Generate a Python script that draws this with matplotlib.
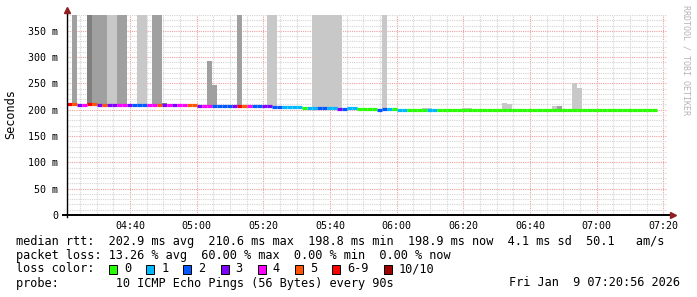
import numpy as np
import matplotlib.pyplot as plt
from matplotlib.patches import Rectangle

# ---------------------------------------------------------------------------
# data (times in minutes after midnight)
view_start = 4 * 60 + 20 + 56 / 60.0      # 04:20:56
view_end = 7 * 60 + 20 + 56 / 60.0        # 07:20:56
first_step = 4 * 60 + 21 + 6 / 60.0       # first 90 s step
step_min = 1.5                            # 90 s

# median rtt per step (ms)
median_ms = [
    210.5, 210.3, 209.8, 209.8, 210.6, 210.0, 209.5, 209.2, 209.3, 209.3, 209.6, 209.6,
    209.3, 209.4, 209.4, 209.4, 209.5, 209.5, 208.9, 208.5, 208.7, 208.3, 208.6, 208.4,
    208.2, 208.2, 207.9, 208.0, 208.0, 207.3, 207.1, 207.5, 207.5, 207.3, 207.6, 207.4,
    206.9, 206.7, 206.7, 206.6, 206.2, 205.0, 205.2, 204.8, 204.5, 204.4, 204.3, 203.6,
    203.8, 203.8, 202.7, 202.8, 203.0, 203.0, 202.0, 202.2, 202.5, 202.4, 202.2, 202.0,
    201.6, 201.4, 200.4, 200.6, 201.0, 200.9, 200.2, 199.8, 199.6, 199.4, 199.2, 199.4,
    199.9, 199.6, 199.6, 199.8, 199.6, 199.5, 199.6, 199.5, 199.7, 199.5, 199.6, 199.5,
    199.4, 199.5, 199.6, 199.5, 199.4, 199.5, 199.5, 199.6, 199.5, 199.4, 199.5, 199.5,
    199.6, 199.5, 199.4, 199.5, 199.5, 199.6, 199.5, 199.5, 199.4, 199.5, 199.5, 199.6,
    199.5, 199.4, 199.5, 199.5, 199.4, 199.5, 199.5, 199.5, 199.4, 199.5,
]

# lost pings (out of 10) per step -> colour class
loss_class = [
    6, 5, 3, 4, 6, 5, 3, 5, 3, 3, 4, 4, 3, 2, 2, 2, 4, 4, 5, 3, 4, 3, 4, 4,
    5, 5, 3, 4, 4, 2, 2, 2, 2, 3, 6, 5, 4, 2, 2, 3, 3, 2, 2, 1, 1, 1, 1, 0,
    1, 1, 2, 2, 1, 1, 3, 2, 1, 1, 0, 0, 0, 0, 2, 2, 1, 0, 1, 1, 0, 0, 0, 0,
    1, 1,
] + [0] * 44

# smoke (step index, top of smoke in ms, shade)
smoke_idx = [1, 4, 5, 6, 7, 8, 9, 10, 11, 14, 15, 17, 18, 19, 28, 29, 34, 40, 41,
             43, 44, 45, 49, 50, 51, 52, 53, 54, 56, 57, 58, 59, 63, 71, 72, 79, 80,
             87, 88, 97, 98, 101, 102]
smoke_top = [380, 380, 380, 380, 380, 380, 380, 380, 380, 380, 380, 380, 380, 213,
             293, 247, 380, 380, 380, 207, 207, 206.5, 380, 380, 380, 380, 380, 380,
             204.5, 204.5, 204, 204, 380, 203, 202.5, 203, 202.5,
             213, 211.5, 207.5, 206.5, 251, 241]
smoke_shade = ['m', 'd', 'm', 'm', 'm', 'l', 'l', 'm', 'm', 'l', 'l', 'm', 'm', 'd',
               'm', 'm', 'm', 'l', 'l', 'l', 'l', 'l', 'l', 'l', 'l', 'l', 'l', 'l',
               'l', 'l', 'm', 'm', 'l', 'l', 'l', 'l', 'l',
               'l', 'l', 'l', 'm', 'l', 'l']

loss_labels = ['0', '1', '2', '3', '4', '5', '6-9', '10/10']
loss_colors = ['#26ff00', '#00b8ff', '#0059ff', '#7e00ff', '#ff00ff', '#ff5500',
               '#ff0000', '#a10000']
shade_colors = {'l': '#c8c8c8', 'm': '#a0a0a0', 'd': '#808080'}

y_major = [0, 50, 100, 150, 200, 250, 300, 350]
y_labels = ['0', '50 m', '100 m', '150 m', '200 m', '250 m', '300 m', '350 m']

line_rtt = "median rtt:  202.9 ms avg  210.6 ms max  198.8 ms min  198.9 ms now  4.1 ms sd  50.1   am/s"
line_loss = "packet loss: 13.26 % avg  60.00 % max  0.00 % min  0.00 % now"
line_probe = "probe:        10 ICMP Echo Pings (56 Bytes) every 90s"
stamp = "Fri Jan  9 07:20:56 2026"

###############################################################################
W, H = 697, 297
mono = 'DejaVu Sans Mono'

fig = plt.figure(figsize=(W / 100, H / 100), dpi=100)
fig.patch.set_facecolor('white')
ax = fig.add_axes([66.5 / W, (H - 215) / H, 600 / W, 200 / H])
for s in ax.spines.values():
    s.set_visible(False)

t = first_step + step_min * np.arange(len(median_ms))
med = np.array(median_ms)

# smoke
st = t[smoke_idx]
sb = med[smoke_idx]
ax.bar(st, np.array(smoke_top) - sb, bottom=sb, width=step_min, align='edge',
       color=[shade_colors[c] for c in smoke_shade], linewidth=0, zorder=2)

# median line coloured by loss
ax.hlines(med, t, t + step_min, colors=[loss_colors[c] for c in loss_class],
          linewidth=2.3, zorder=3)

# grid
ax.set_xlim(view_start, view_end)
ax.set_ylim(0, 380)
ax.set_yticks(y_major)
ax.set_yticklabels(y_labels)
ax.set_yticks(np.arange(10, 381, 10), minor=True)
x_major = np.arange(280, 441, 20)
ax.set_xticks(x_major)
ax.set_xticklabels(['%02d:%02d' % (m // 60, m % 60) for m in x_major])
ax.set_xticks(np.arange(265, 441, 5), minor=True)
ax.grid(which='minor', color='#d4d4d4', linestyle=(0, (1, 1)), linewidth=0.8, zorder=0)
ax.grid(which='major', color='#eea0a0', linestyle=(0, (1, 1)), linewidth=0.8, zorder=0)
ax.set_axisbelow(True)
ax.tick_params(which='both', length=0)
ax.tick_params(axis='y', pad=6, labelsize=7.2)
ax.tick_params(axis='x', pad=4, labelsize=7.2)
for lab in ax.get_xticklabels() + ax.get_yticklabels():
    lab.set_family(mono)

# axes with arrows
ax.plot([view_start - 1, view_end + 1.5], [0, 0], color='k', lw=1.4, clip_on=False, zorder=4)
ax.plot([view_start, view_start], [-4, 386], color='k', lw=1.0, clip_on=False, zorder=4)
ax.plot(view_end + 2.0, 0, marker='>', color='#8f2020', markersize=4, clip_on=False, zorder=5)
ax.plot(view_start, 390, marker='^', color='#8f2020', markersize=4, clip_on=False, zorder=5)

# side texts
fig.text(11 / W, 1 - 114 / H, 'Seconds', rotation=90, family=mono, size=8.6,
         ha='center', va='center')
fig.text(686 / W, 1 - 60 / H, 'RRDTOOL / TOBI OETIKER', rotation=270, family=mono,
         size=6, color='#b4b4b4', ha='center', va='center')

# legend block
fig.text(16 / W, 1 - 241 / H, line_rtt, family=mono, size=8.6, va='center')
fig.text(16 / W, 1 - 255 / H, line_loss, family=mono, size=8.6, va='center')
fig.text(16 / W, 1 - 269 / H, 'loss color:', family=mono, size=8.6, va='center')
fig.text(16 / W, 1 - 283 / H, line_probe, family=mono, size=8.6, va='center')
fig.text(680 / W, 1 - 283 / H, stamp, family=mono, size=8.6, va='center', ha='right')

cw = 7.19
bx = 109
for lab, col in zip(loss_labels, loss_colors):
    fig.add_artist(Rectangle((bx / W, 1 - 273.5 / H), 8 / W, 9 / H, facecolor=col,
                             edgecolor='k', linewidth=0.7, transform=fig.transFigure))
    fig.text((bx + 15) / W, 1 - 269 / H, lab, family=mono, size=8.6, va='center')
    bx = bx + 15 + len(lab) * cw + 15

fig.savefig('out.png', dpi=100)
